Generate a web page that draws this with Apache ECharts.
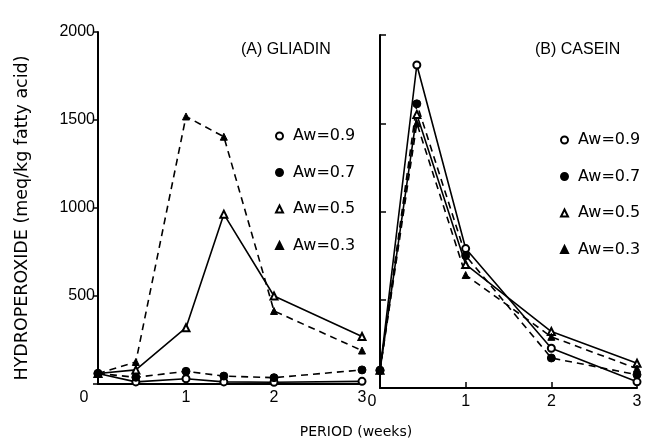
<!DOCTYPE html>
<html>
<head>
<meta charset="utf-8">
<script src="https://cdn.jsdelivr.net/npm/echarts@6/dist/echarts.min.js"></script>
<style>
  html, body { margin: 0; padding: 0; background: #fff; }
  #chart { width: 647px; height: 442px; }
</style>
</head>
<body>
<div id="chart"></div>
<script>
// period in weeks (0, 3, 7, 10, 14, 21 days)
var gliadinWeeks = [0, 0.43, 1, 1.43, 2, 3];
var caseinWeeks = [0, 0.43, 1, 2, 3];

var seriesNames = ["Aw=0.9", "Aw=0.7", "Aw=0.5", "Aw=0.3"];

// (A) gliadin, meq/kg fatty acid
var gliadin09 = [60, 12, 30, 12, 10, 15];
var gliadin07 = [60, 38, 72, 45, 36, 80];
var gliadin05 = [60, 80, 320, 965, 500, 270];
var gliadin03 = [60, 125, 1520, 1405, 415, 190];

// (B) casein
var casein09 = [100, 1830, 790, 225, 35];
var casein07 = [100, 1610, 750, 170, 75];
var casein05 = [100, 1550, 700, 320, 140];
var casein03 = [100, 1500, 640, 290, 110];

var symbols = ["emptyCircle", "circle", "emptyTriangle", "triangle"];
var dashed = [false, true, false, true];
var sizes = [7, 8, 7, 7];

function pairs(xs, ys) {
  return xs.map(function (x, i) { return [x, ys[i]]; });
}

function makeSeries(k, xs, ys, idx) {
  return {
    name: seriesNames[k],
    type: "line",
    xAxisIndex: idx,
    yAxisIndex: idx,
    data: pairs(xs, ys),
    symbol: symbols[k],
    symbolSize: sizes[k],
    itemStyle: { color: "#000", borderColor: "#000", borderWidth: 1 },
    lineStyle: { color: "#000", width: 1.6, type: dashed[k] ? [7, 5] : "solid" },
    z: 3
  };
}

var myChart = echarts.init(document.getElementById("chart"));
var font = "Liberation Sans";
var wide = "DejaVu Sans";

var xAxisBase = function (idx, shift) {
  return {
    type: "value",
    gridIndex: idx,
    min: 0,
    max: 3,
    interval: 1,
    splitLine: { show: false },
    axisLine: { lineStyle: { color: "#000", width: 2 } },
    axisTick: { inside: true, length: 6, lineStyle: { color: "#000", width: 1.5 } },
    axisLabel: {
      color: "#000",
      fontFamily: font,
      fontSize: 16,
      margin: 6,
      formatter: function (v) { return v === 0 ? "{z|0}" : String(v); },
      rich: { z: { fontFamily: font, fontSize: 16, color: "#000", padding: [0, shift, 0, 0] } }
    }
  };
};

var legendText = { fontFamily: wide, fontSize: 16, color: "#000", padding: [0, 0, 0, 5] };

var option = {
  animation: false,
  backgroundColor: "#fff",
  title: [
    { text: "(A) GLIADIN", left: 236, top: 37, textStyle: { fontFamily: font, fontSize: 16, fontWeight: "normal", color: "#000" } },
    { text: "(B) CASEIN", left: 530, top: 37, textStyle: { fontFamily: font, fontSize: 16, fontWeight: "normal", color: "#000" } }
  ],
  legend: [
    {
      left: 270, top: 123, orient: "vertical", itemGap: 20.5,
      itemWidth: 7, itemHeight: 7,
      textStyle: legendText,
      data: seriesNames.map(function (n, k) { return { name: n, icon: symbols[k] }; })
    },
    {
      left: 555, top: 127, orient: "vertical", itemGap: 20.5,
      itemWidth: 7, itemHeight: 7,
      textStyle: legendText,
      data: seriesNames.map(function (n, k) { return { name: n, icon: symbols[k] }; })
    }
  ],
  grid: [
    { left: 98, top: 32, width: 264, height: 352 },
    { left: 380, top: 35, width: 257, height: 353 }
  ],
  xAxis: [xAxisBase(0, 28), xAxisBase(1, 16)],
  yAxis: [
    {
      type: "value",
      gridIndex: 0,
      min: 0,
      max: 2000,
      interval: 500,
      splitLine: { show: false },
      axisLine: { show: true, lineStyle: { color: "#000", width: 2 } },
      axisTick: { length: 5, lineStyle: { color: "#000", width: 1.5 } },
      axisLabel: {
        color: "#000", fontFamily: font, fontSize: 16, margin: 3,
        formatter: function (v) { return v === 0 ? "" : String(v); }
      }
    },
    {
      type: "value",
      gridIndex: 1,
      min: 0,
      max: 2000,
      interval: 500,
      splitLine: { show: false },
      axisLine: { show: true, lineStyle: { color: "#000", width: 2 } },
      axisTick: { inside: true, length: 6, lineStyle: { color: "#000", width: 1.5 } },
      axisLabel: { show: false }
    }
  ],
  graphic: [
    {
      type: "text", x: 22, y: 218, rotation: Math.PI / 2,
      style: {
        text: "HYDROPEROXIDE (meq/kg fatty acid)", fontFamily: wide, fontSize: 17.5,
        fill: "#000", align: "center", verticalAlign: "middle"
      }
    },
    {
      type: "text", x: 356, y: 432,
      style: {
        text: "PERIOD (weeks)", fontFamily: wide, fontSize: 14, fill: "#000",
        align: "center", verticalAlign: "middle"
      }
    }
  ],
  series: [
    makeSeries(0, gliadinWeeks, gliadin09, 0),
    makeSeries(1, gliadinWeeks, gliadin07, 0),
    makeSeries(2, gliadinWeeks, gliadin05, 0),
    makeSeries(3, gliadinWeeks, gliadin03, 0),
    makeSeries(0, caseinWeeks, casein09, 1),
    makeSeries(1, caseinWeeks, casein07, 1),
    makeSeries(2, caseinWeeks, casein05, 1),
    makeSeries(3, caseinWeeks, casein03, 1)
  ]
};

myChart.setOption(option);
</script>
</body>
</html>
